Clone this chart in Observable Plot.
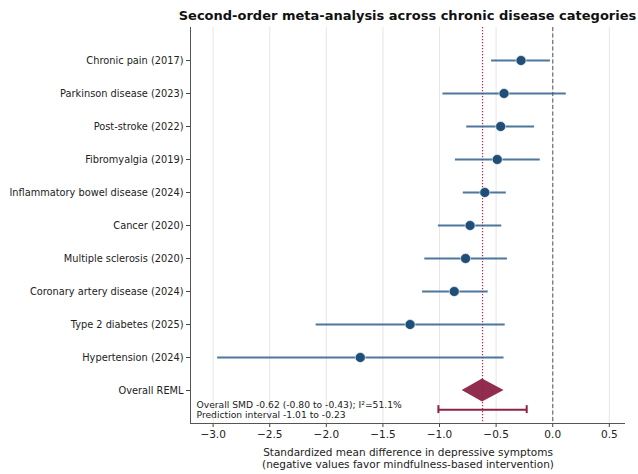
<!DOCTYPE html>
<html>
<head>
<meta charset="utf-8">
<script src="https://cdn.jsdelivr.net/npm/d3@7"></script>
<script src="https://cdn.jsdelivr.net/npm/@observablehq/plot@0.6"></script>
<style>
  body { margin: 0; background: #fff; font-family: "DejaVu Sans", sans-serif; overflow: hidden; }
  #title { width: 815px; height: 24px; text-align: center;
           font: bold 13px "DejaVu Sans", sans-serif; line-height: 31px; color: #111; white-space: nowrap; }
</style>
</head>
<body>
<div id="title">Second-order meta-analysis across chronic disease categories</div>
<div id="chart"></div>
<script>
const categories = [
  "Chronic pain (2017)",
  "Parkinson disease (2023)",
  "Post-stroke (2022)",
  "Fibromyalgia (2019)",
  "Inflammatory bowel disease (2024)",
  "Cancer (2020)",
  "Multiple sclerosis (2020)",
  "Coronary artery disease (2024)",
  "Type 2 diabetes (2025)",
  "Hypertension (2024)"
];
const smd   = [-0.28, -0.43, -0.46, -0.49, -0.60, -0.73, -0.77, -0.87, -1.26, -1.70];
const ciLow = [-0.54, -0.97, -0.76, -0.86, -0.79, -1.01, -1.13, -1.15, -2.09, -2.96];
const ciHigh= [-0.02,  0.12, -0.16, -0.11, -0.41, -0.45, -0.40, -0.57, -0.42, -0.43];

const overallLabel = "Overall REML";
const overallSMD = -0.62;
const overallCI = [-0.80, -0.43];
const overallI2 = 51.1;
const predInterval = [-1.01, -0.23];

const xTicks = [-3.0, -2.5, -2.0, -1.5, -1.0, -0.5, 0.0, 0.5];

const yLabels = [...categories, overallLabel];
const rows = categories.map((c, i) => ({ i, c, smd: smd[i], lo: ciLow[i], hi: ciHigh[i] }));
const oi = categories.length;          // row index of overall
const piY = oi + 0.58;                  // prediction-interval row offset
const dh = 0.35;                        // diamond half-height
const diamond = [
  { x: overallCI[0], y1: oi, y2: oi },
  { x: overallSMD, y1: oi - dh, y2: oi + dh },
  { x: overallCI[1], y1: oi, y2: oi }
];
const f2 = v => v.toFixed(2);
const note = `Overall SMD ${f2(overallSMD)} (${f2(overallCI[0])} to ${f2(overallCI[1])}); I²=${overallI2.toFixed(1)}%\nPrediction interval ${f2(predInterval[0])} to ${f2(predInterval[1])}`;

const xDom = [-3.2, 0.643];
const yDom = [-1, 11];
const blue = "#1f4e79";
const maroon = "#8b2346";

const chart = Plot.plot({
  width: 638,
  height: 450,
  marginTop: 3,
  marginBottom: 51,
  marginLeft: 190,
  marginRight: 13,
  style: { fontFamily: "DejaVu Sans, sans-serif", color: "#222", background: "#fff" },
  x: { domain: xDom },
  y: { domain: yDom, reverse: true },
  marks: [
    Plot.ruleX(xTicks, { stroke: "#e6e6e6", strokeWidth: 1 }),
    Plot.ruleX([0], { stroke: "#777", strokeWidth: 1.3, strokeDasharray: "4,2.5" }),
    Plot.ruleX([overallSMD], { stroke: "#b5274f", strokeWidth: 1.2, strokeDasharray: "1.2,1.8" }),
    Plot.ruleY(rows, { y: "i", x1: "lo", x2: "hi", stroke: "#2f5f8c", strokeWidth: 2, strokeOpacity: 0.85 }),
    Plot.dot(rows, { x: "smd", y: "i", r: 5, fill: blue, stroke: "white", strokeWidth: 0.6 }),
    Plot.areaY(diamond, { x: "x", y1: "y1", y2: "y2", fill: maroon, fillOpacity: 0.95 }),
    Plot.ruleY([piY], { x1: predInterval[0], x2: predInterval[1], stroke: maroon, strokeWidth: 2 }),
    Plot.ruleX(predInterval, { y1: piY - 0.12, y2: piY + 0.12, stroke: maroon, strokeWidth: 2 }),
    Plot.text([note], { x: xDom[0], y: oi + 0.58, dx: 6, text: d => d, textAnchor: "start", lineAnchor: "middle", fontSize: 9.2, lineHeight: 1.12, fill: "#222" }),
    Plot.axisY(d3.range(yLabels.length), { tickFormat: i => yLabels[i], tickSize: 4, tickPadding: 3, fontSize: 9.8, label: null, stroke: "#444" }),
    Plot.axisX(xTicks, { tickFormat: v => v.toFixed(1).replace("-", "\u2212"), tickSize: 4, tickPadding: 3, fontSize: 10.5, label: null, stroke: "#444" }),
    Plot.ruleX([xDom[0]], { stroke: "#555", strokeWidth: 1 }),
    Plot.ruleY([yDom[1]], { stroke: "#555", strokeWidth: 1 }),
    Plot.text(["Standardized mean difference in depressive symptoms\n(negative values favor mindfulness-based intervention)"],
      { frameAnchor: "bottom", dy: 35, text: d => d, fontSize: 10.5, lineHeight: 1.15, lineAnchor: "middle", fill: "#222" })
  ]
});
document.getElementById("chart").appendChild(chart);
</script>
</body>
</html>
